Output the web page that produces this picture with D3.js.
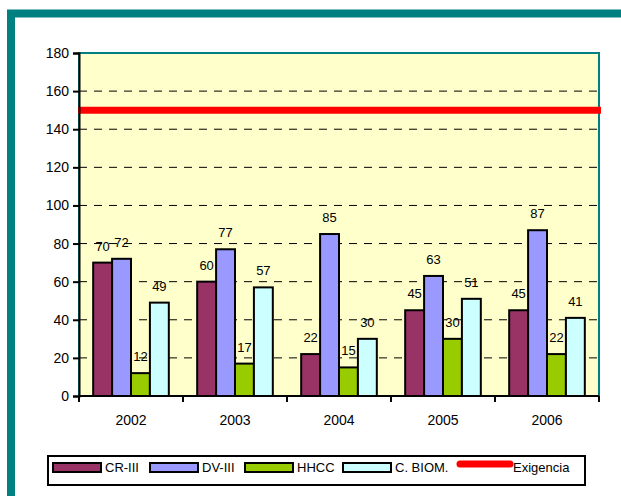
<!DOCTYPE html>
<html>
<head>
<meta charset="utf-8">
<script src="https://cdn.jsdelivr.net/npm/d3@7"></script>
<style>
body { margin: 0; background: #fff; }
svg { display: block; font-family: "Liberation Sans", Arial, sans-serif; }
</style>
</head>
<body>
<svg width="621" height="496"></svg>
<script>
var years = ['2002', '2003', '2004', '2005', '2006'];
var seriesNames = ['CR-III', 'DV-III', 'HHCC', 'C. BIOM.'];
var seriesColors = ['#993366', '#9999ff', '#99cc00', '#ccffff'];
var crIII = [70, 60, 22, 45, 45];
var dvIII = [72, 77, 85, 63, 87];
var hhcc = [12, 17, 15, 30, 22];
var cBiom = [49, 57, 30, 51, 41];
var exigencia = 150;
var yTicks = [0, 20, 40, 60, 80, 100, 120, 140, 160, 180];

var series = [crIII, dvIII, hhcc, cBiom];
var fontFam = '"Liberation Sans", Arial, sans-serif';

var svg = d3.select('svg');

// teal outer frame (runs off the right and bottom of the picture)
svg.append('rect')
    .attr('x', 11).attr('y', 13.5)
    .attr('width', 700).attr('height', 600)
    .attr('fill', '#fff')
    .attr('stroke', '#008080')
    .attr('stroke-width', 8);

var plotLeft = 79, plotRight = 599, plotTop = 53, plotBottom = 396;

var x = d3.scaleBand().domain(years).range([plotLeft, plotRight]);
// Excel gap width 150%: group = 5.5 bar widths
var barW = x.bandwidth() / 5.5;
var y = d3.scaleLinear().domain([0, 180]).range([plotBottom, plotTop]);

// plot area
svg.append('rect')
    .attr('x', plotLeft).attr('y', plotTop)
    .attr('width', plotRight - plotLeft).attr('height', plotBottom - plotTop)
    .attr('fill', '#ffffcc')
    .attr('stroke', '#008080')
    .attr('stroke-width', 2);

// dashed gridlines
svg.append('g').selectAll('line')
    .data(yTicks.filter(function(d) { return d > 0 && d < 180; }))
    .join('line')
    .attr('x1', plotLeft).attr('x2', plotRight)
    .attr('y1', function(d) { return y(d); })
    .attr('y2', function(d) { return y(d); })
    .attr('stroke', '#000')
    .attr('stroke-width', 1)
    .attr('stroke-dasharray', '8,7');

// bars + value labels
svg.append('g').selectAll('g')
    .data(series)
    .join('g')
    .each(function(vals, si) {
        var g = d3.select(this);
        g.selectAll('rect')
            .data(vals)
            .join('rect')
            .attr('x', function(d, i) { return x(years[i]) + barW * (0.75 + si); })
            .attr('y', function(d) { return y(d); })
            .attr('width', barW)
            .attr('height', function(d) { return y(0) - y(d); })
            .attr('fill', seriesColors[si])
            .attr('stroke', '#000')
            .attr('stroke-width', 2);
        g.selectAll('text')
            .data(vals)
            .join('text')
            .attr('x', function(d, i) { return x(years[i]) + barW * (1.25 + si); })
            .attr('y', function(d) { return y(d) - 12; })
            .attr('text-anchor', 'middle')
            .attr('font-size', 13)
            .attr('fill', '#000')
            .text(function(d) { return d; });
    });

// exigencia line
svg.append('line')
    .attr('x1', plotLeft - 1).attr('x2', plotRight + 2)
    .attr('y1', y(exigencia)).attr('y2', y(exigencia))
    .attr('stroke', '#ff0000')
    .attr('stroke-width', 7);

// y axis
var yAxis = svg.append('g')
    .attr('transform', 'translate(' + plotLeft + ',0)')
    .call(d3.axisLeft(y).tickValues(yTicks).tickSize(6).tickPadding(4));
yAxis.select('.domain').attr('stroke-width', 2);
yAxis.selectAll('.tick line').attr('stroke-width', 2);
yAxis.selectAll('text').attr('font-size', 14).attr('font-family', fontFam).attr('fill', '#000');

// x axis
var xAxis = svg.append('g')
    .attr('transform', 'translate(0,' + plotBottom + ')')
    .call(d3.axisBottom(x).tickSize(0).tickPadding(19));
xAxis.select('.domain').attr('stroke-width', 2).attr('d', 'M' + plotLeft + ',0H' + plotRight);
xAxis.selectAll('text').attr('font-size', 14).attr('font-family', fontFam).attr('fill', '#000');
svg.append('g').selectAll('line')
    .data(d3.range(years.length + 1))
    .join('line')
    .attr('x1', function(i) { return plotLeft + i * x.bandwidth(); })
    .attr('x2', function(i) { return plotLeft + i * x.bandwidth(); })
    .attr('y1', plotBottom).attr('y2', plotBottom + 6)
    .attr('stroke', '#000')
    .attr('stroke-width', 2);

// legend
var legend = svg.append('g');
legend.append('rect')
    .attr('x', 48).attr('y', 456)
    .attr('width', 537).attr('height', 29)
    .attr('fill', '#fff')
    .attr('stroke', '#000')
    .attr('stroke-width', 2);
var legX = [53, 150, 245, 343];
seriesNames.forEach(function(name, i) {
    legend.append('rect')
        .attr('x', legX[i]).attr('y', 463)
        .attr('width', 48).attr('height', 9)
        .attr('fill', seriesColors[i])
        .attr('stroke', '#000')
        .attr('stroke-width', 2);
    legend.append('text')
        .attr('x', legX[i] + 52).attr('y', 472)
        .attr('font-size', 13)
        .text(name);
});
legend.append('line')
    .attr('x1', 460).attr('x2', 510)
    .attr('y1', 464).attr('y2', 464)
    .attr('stroke', '#ff0000')
    .attr('stroke-width', 7)
    .attr('stroke-linecap', 'round');
legend.append('text')
    .attr('x', 513).attr('y', 472)
    .attr('font-size', 13)
    .text('Exigencia');
</script>
</body>
</html>
